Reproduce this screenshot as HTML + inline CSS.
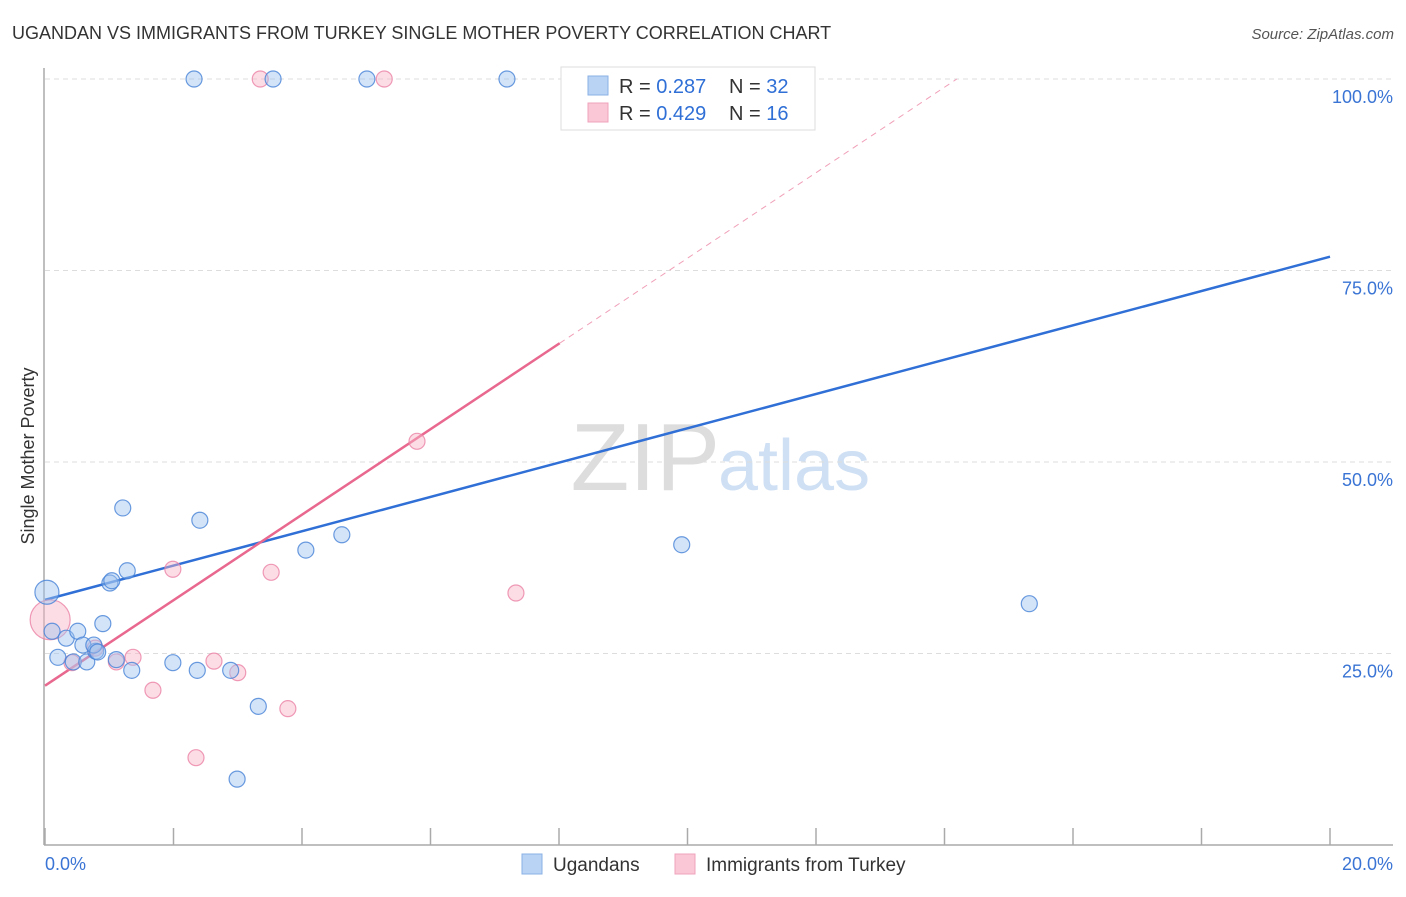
<!DOCTYPE html>
<html><head><meta charset="utf-8"><style>
body{margin:0;background:#fff;font-family:"Liberation Sans",sans-serif}
svg text{font-family:"Liberation Sans",sans-serif}
</style></head><body>
<svg width="1406" height="892" xmlns="http://www.w3.org/2000/svg">
<text x="12" y="39" font-size="18" fill="#333">UGANDAN VS IMMIGRANTS FROM TURKEY SINGLE MOTHER POVERTY CORRELATION CHART</text>
<text x="1394" y="39" font-size="15" fill="#555" font-style="italic" text-anchor="end">Source: ZipAtlas.com</text>
<text x="720" y="490" font-size="96" fill="#ddd" text-anchor="end" font-family="Liberation Serif">ZIP</text>
<text x="718" y="490" font-size="72" fill="#cfe0f4">atlas</text>
<g id="grid"></g>
<line x1="44" y1="68" x2="44" y2="845" stroke="#aaa" stroke-width="1.5"/>
<line x1="44" y1="845" x2="1393" y2="845" stroke="#aaa" stroke-width="1.5"/>
<g id="xticks"></g>
<text x="45" y="870" font-size="18" fill="#3a74d4">0.0%</text>
<text x="1393" y="870" font-size="18" fill="#3a74d4" text-anchor="end">20.0%</text>
<text transform="translate(34,456) rotate(-90)" font-size="18" fill="#333" text-anchor="middle">Single Mother Poverty</text>
<g id="lines"></g>
<g id="points"></g>
<g>
<rect x="561" y="67" width="254" height="63" fill="#fff" stroke="#ddd"/>
<rect x="588" y="76" width="20" height="19" fill="#b9d3f5" stroke="#8bb0e6"/>
<rect x="588" y="103" width="20" height="19" fill="#f9c7d6" stroke="#efa3bb"/>
<text x="619" y="93" font-size="20" fill="#333">R = <tspan fill="#2f6fd6">0.287</tspan></text>
<text x="729" y="93" font-size="20" fill="#333">N = <tspan fill="#2f6fd6">32</tspan></text>
<text x="619" y="120" font-size="20" fill="#333">R = <tspan fill="#2f6fd6">0.429</tspan></text>
<text x="729" y="120" font-size="20" fill="#333">N = <tspan fill="#2f6fd6">16</tspan></text>
</g>
<g>
<rect x="522" y="854" width="20" height="20" fill="#b9d3f5" stroke="#8bb0e6"/>
<text x="553" y="871" font-size="19" fill="#333">Ugandans</text>
<rect x="675" y="854" width="20" height="20" fill="#f9c7d6" stroke="#efa3bb"/>
<text x="706" y="871" font-size="19" fill="#333">Immigrants from Turkey</text>
</g>
</svg>
<script>
const yTickValues=[25,50,75,100];
const yTickLabels=["25.0%","50.0%","75.0%","100.0%"];
const xTickValues=[0,2,4,6,8,10,12,14,16,18,20];
const blueX=[2.32,3.55,5.01,7.19,0.03,0.11,0.20,0.33,0.44,0.51,0.59,0.65,0.79,0.90,1.01,1.04,1.11,1.21,1.28,1.35,1.99,2.37,2.41,2.89,2.99,3.32,4.06,4.62,9.91,15.32,0.76,0.82];
const blueY=[100,100,100,100,33.0,27.9,24.5,27.0,23.9,27.9,26.1,23.9,25.3,28.9,34.2,34.5,24.2,44.0,35.8,22.8,23.8,22.8,42.4,22.8,8.6,18.1,38.5,40.5,39.2,31.5,26.1,25.2];
const pinkX=[3.35,5.28,0.08,0.42,0.78,1.11,1.37,1.68,1.99,2.35,2.63,3.00,3.52,3.78,5.79,7.33];
const pinkY=[100,100,29.4,23.8,25.7,23.9,24.5,20.2,36.0,11.4,24.0,22.5,35.6,17.8,52.7,32.9];
const blueTrend=[32.0,76.8]; // y at x=0 and x=20
const pinkTrend=[20.8,65.5,8.01]; // y at 0, y at end, x end
const X=v=>45+v/20*1285, Y=v=>845-v/100*766;
const NS="http://www.w3.org/2000/svg";
function mk(t,a,p){const e=document.createElementNS(NS,t);for(const k in a)e.setAttribute(k,a[k]);p.appendChild(e);return e;}
const grid=document.getElementById('grid');
yTickValues.forEach((v,i)=>{
 const l=mk('line',{x1:45,x2:1393,y1:Y(v),y2:Y(v),stroke:'#ddd','stroke-dasharray':'5,4'},grid);
 
 
 const t=mk('text',{x:1393,y:Y(v)+24,'font-size':18,fill:'#3a74d4','text-anchor':'end'},grid);
 t.textContent=yTickLabels[i];
 
 
});
const xt=document.getElementById('xticks');
xTickValues.forEach(v=>{
 const l=mk('line',{x1:X(v),x2:X(v),y1:828,y2:845,stroke:'#aaa','stroke-width':1.5},xt);
 
 
});
const lg=document.getElementById('lines');
let b=mk('line',{x1:X(0),y1:Y(blueTrend[0]),x2:X(20),y2:Y(blueTrend[1]),stroke:'#2f6fd6','stroke-width':2.5},lg);


const slope=(pinkTrend[1]-pinkTrend[0])/pinkTrend[2];
const xEnd=(100-pinkTrend[0])/slope;
let pd=mk('line',{x1:X(pinkTrend[2]),y1:Y(pinkTrend[1]),x2:X(xEnd),y2:Y(100),stroke:'#f0a0b8','stroke-width':1,'stroke-dasharray':'6,5'},lg);


let p=mk('line',{x1:X(0),y1:Y(pinkTrend[0]),x2:X(pinkTrend[2]),y2:Y(pinkTrend[1]),stroke:'#e8688f','stroke-width':2.5},lg);


const pg=document.getElementById('points');
pinkX.forEach((x,i)=>{
 const c=mk('circle',{cx:X(x),cy:Y(pinkY[i]),r:i==2?20:8,fill:'rgba(248,180,200,0.45)',stroke:'rgba(235,130,165,0.8)','stroke-width':1.2},pg);
 
 
});
blueX.forEach((x,i)=>{
 const c=mk('circle',{cx:X(x),cy:Y(blueY[i]),r:i==4?12:8,fill:'rgba(160,195,240,0.45)',stroke:'rgba(70,130,215,0.8)','stroke-width':1.2},pg);
 
 
});
</script>
</body></html>
